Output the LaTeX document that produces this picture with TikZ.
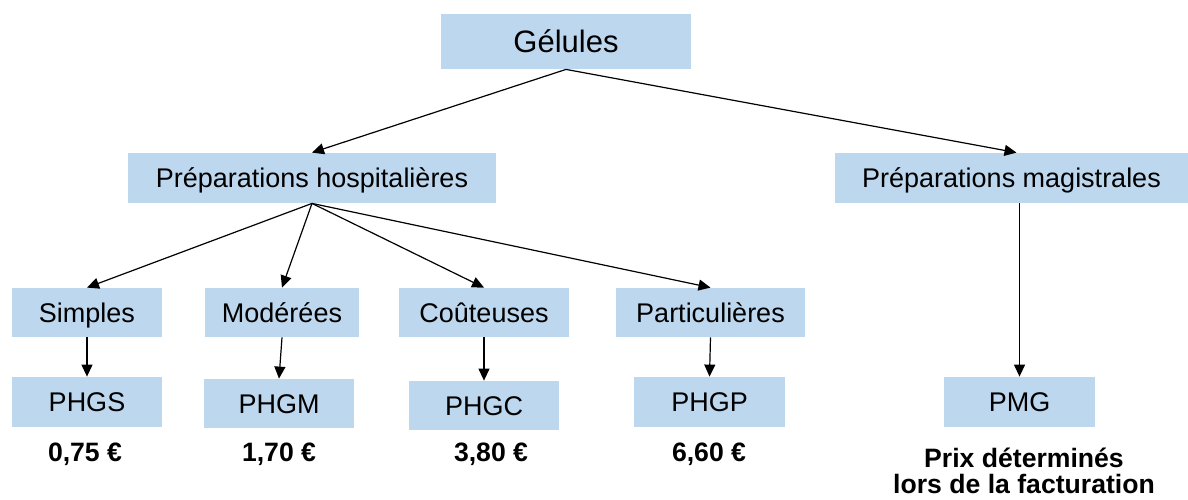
\documentclass[tikz,border=0pt]{standalone}
\usepackage{fontspec}
\setmainfont{Liberation Sans}
\usetikzlibrary{arrows.meta}
\definecolor{bleuclair}{RGB}{189,215,238}

\tikzset{
  boite/.style={fill=bleuclair, inner sep=0pt, text height=9.7pt, text depth=0pt, font=\fontsize{13.5}{16}\selectfont},
  fleche/.style={-{Triangle[length=6pt,width=5.5pt]}, line width=0.6pt},
  prix/.style={font=\fontsize{13.3}{13}\selectfont\bfseries, inner sep=0pt, align=center}
}

\begin{document}
\begin{tikzpicture}[x=0.5pt, y=-0.5pt]
        \useasboundingbox (0,0) rectangle (1188,499);

        % Racine
        \node[boite, minimum width=125pt, minimum height=27.5pt, text height=11.1pt, font=\fontsize{15.5}{18}\selectfont] (gelules) at (566,41.5) {Gélules};

        % Deux familles
        \node[boite, minimum width=184pt, minimum height=25pt] (hosp) at (312,178) {Préparations hospitalières};
        \node[boite, minimum width=176.5pt, minimum height=25pt] (magis) at (1011.5,178) {Préparations magistrales};

        % Categories
        \node[boite, minimum width=75pt, minimum height=24.5pt] (simples) at (87,312.5) {Simples};
        \node[boite, minimum width=77pt, minimum height=24.5pt] (moderees) at (282,312.5) {Modérées};
        \node[boite, minimum width=85pt, minimum height=24.5pt] (couteuses) at (484,312.5) {Coûteuses};
        \node[boite, minimum width=94.5pt, minimum height=24.5pt] (partic) at (710.5,312.5) {Particulières};

        % Codes
        \node[boite, minimum width=75pt, minimum height=25pt] (phgs) at (87,402) {PHGS};
        \node[boite, minimum width=75pt, minimum height=24.5pt] (phgm) at (279,403.5) {PHGM};
        \node[boite, minimum width=75pt, minimum height=24.5pt] (phgc) at (484,405.5) {PHGC};
        \node[boite, minimum width=75.5pt, minimum height=25pt] (phgp) at (709.5,402) {PHGP};
        \node[boite, minimum width=75.5pt, minimum height=25pt] (pmg) at (1019.5,402) {PMG};

        % Prix
        \node[prix] (prixs) at (85,454) {0,75 €};
        \node[prix] (prixm) at (279,454) {1,70 €};
        \node[prix] (prixc) at (491,454) {3,80 €};
        \node[prix] (prixp) at (709,454) {6,60 €};
        \node[prix] (prixpmg) at (1024,471) {Prix déterminés\\lors de la facturation};

        % Fleches
        \draw[fleche] (gelules.south) -- (hosp.north);
        \draw[fleche] (gelules.south) -- ([xshift=2.5pt]magis.north);
        \draw[fleche] (hosp.south) -- (simples.north);
        \draw[fleche] (hosp.south) -- (moderees.north);
        \draw[fleche] (hosp.south) -- (couteuses.north);
        \draw[fleche] (hosp.south) -- (partic.north);
        \draw[fleche] (simples.south) -- (phgs.north);
        \draw[fleche] (moderees.south) -- (phgm.north);
        \draw[fleche] (couteuses.south) -- (phgc.north);
        \draw[fleche] (partic.south) -- (phgp.north);
        \draw[fleche] (magis.south -| pmg.north) -- (pmg.north);
    \end{tikzpicture}
\end{document}
